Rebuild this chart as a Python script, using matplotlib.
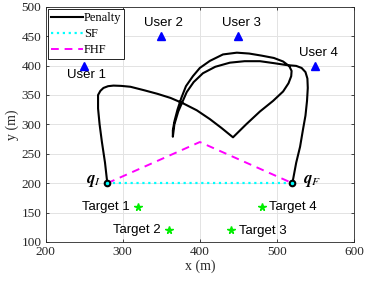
import matplotlib
matplotlib.use("Agg")
import matplotlib.pyplot as plt

# ---- data ----
penalty_x = [280, 277, 273, 270, 268, 268, 271, 275, 281, 288, 298, 310, 328, 345, 362, 378,
             396, 413, 428, 443, 460, 478, 495, 508, 515, 518.5, 519, 516, 508, 496, 480,
             464, 448, 430, 413, 400, 391, 382, 376, 371, 367, 365, 365, 367, 372, 378,
             383, 392, 404, 420, 439, 458, 478, 497, 512, 525, 532, 537, 539.5, 540, 539,
             537, 534, 530, 525, 520]
penalty_y = [200, 235, 270, 300, 327, 350, 357, 362, 365, 366, 365.5, 364, 358, 352, 345, 336,
             324, 309, 294, 278, 300, 322, 340, 356, 370, 382, 391, 399, 407, 413, 417,
             420.5, 422, 419, 408, 396, 382, 365, 345, 325, 305, 290, 279, 300, 322, 340,
             355, 372, 387, 398, 405, 407.5, 407.5, 404, 401, 399.5, 396, 389, 378, 362, 340,
             315, 293, 262, 235, 200]

sf_x = [280, 520]
sf_y = [200, 200]

fhf_x = [280, 400, 520]
fhf_y = [200, 270, 200]

user_x = [250, 350, 450, 550]
user_y = [400, 450, 450, 400]
user_labels = ["User 1", "User 2", "User 3", "User 4"]

target_x = [320, 360, 440, 480]
target_y = [160, 120, 120, 160]
target_labels = ["Target 1", "Target 2", "Target 3", "Target 4"]

x_ticks = [200, 300, 400, 500, 600]
y_ticks = [100, 150, 200, 250, 300, 350, 400, 450, 500]

# ---- plot ----
plt.rcParams['mathtext.fontset'] = 'stix'
serif = ['Liberation Serif', 'DejaVu Serif']
sans = ['Liberation Sans', 'DejaVu Sans']

fig = plt.figure(figsize=(3.65, 2.84), dpi=100)
ax = fig.add_axes([0.125, 0.148, 0.845, 0.828])

ax.grid(True, color='#e3e3e3', linewidth=0.7, zorder=0)
ax.set_axisbelow(True)

ax.plot(penalty_x, penalty_y, color='black', linewidth=1.5, label='Penalty', zorder=3)
ax.plot(sf_x, sf_y, color='cyan', linestyle=':', linewidth=1.6, label='SF', zorder=4)
ax.plot(fhf_x, fhf_y, color='magenta', linestyle=(0, (4, 3)), linewidth=1.4, label='FHF', zorder=3)

ax.plot([penalty_x[0], penalty_x[-1]], [penalty_y[0], penalty_y[-1]], 'o', color='black',
        markersize=4.5, zorder=5)
ax.plot([penalty_x[0], penalty_x[-1]], [penalty_y[0], penalty_y[-1]], 'o', color='cyan',
        markersize=1.5, zorder=6)

ax.plot(user_x, user_y, '^', color='blue', markersize=5.5, linestyle='none', zorder=5)
ax.plot(target_x, target_y, '*', color='#00ee00', markersize=5.5, linestyle='none', zorder=5)

fs = 9.5
# user labels
ax.text(253, 384, user_labels[0], ha='center', va='center', fontsize=fs, family=sans)
ax.text(353, 473, user_labels[1], ha='center', va='center', fontsize=fs, family=sans)
ax.text(454, 472, user_labels[2], ha='center', va='center', fontsize=fs, family=sans)
ax.text(554, 422, user_labels[3], ha='center', va='center', fontsize=fs, family=sans)
# target labels
ax.text(309, 160, target_labels[0], ha='right', va='center', fontsize=fs, family=sans)
ax.text(349, 120, target_labels[1], ha='right', va='center', fontsize=fs, family=sans)
ax.text(451, 118, target_labels[2], ha='left', va='center', fontsize=fs, family=sans)
ax.text(490, 160, target_labels[3], ha='left', va='center', fontsize=fs, family=sans)

ax.text(272, 205, r'$\mathbfit{q}_{I}$', ha='right', va='center', fontsize=12)
ax.text(534, 205, r'$\mathbfit{q}_{F}$', ha='left', va='center', fontsize=12)

ax.set_xlim(200, 600)
ax.set_ylim(100, 500)
ax.set_xticks(x_ticks)
ax.set_yticks(y_ticks)
ax.tick_params(direction='in', top=True, right=True, length=2.5, width=0.6,
               labelsize=9.5, pad=3, colors='#262626')
for lab in ax.get_xticklabels() + ax.get_yticklabels():
    lab.set_family(serif)
for s in ax.spines.values():
    s.set_linewidth(0.6)
    s.set_color('#262626')

ax.set_xlabel('x (m)', fontsize=10, family=serif, labelpad=1, color='#262626')
ax.set_ylabel('y (m)', fontsize=10, family=serif, labelpad=2, color='#262626')

leg = ax.legend(loc='upper left', bbox_to_anchor=(0.0, 1.0), borderaxespad=0.2,
                prop={'family': serif, 'size': 9}, frameon=True, fancybox=False,
                edgecolor='black', framealpha=1, handlelength=2.5, handletextpad=0.1,
                labelspacing=0.3, borderpad=0.25)
leg.get_frame().set_linewidth(0.6)

fig.savefig('out.png', dpi=100)
